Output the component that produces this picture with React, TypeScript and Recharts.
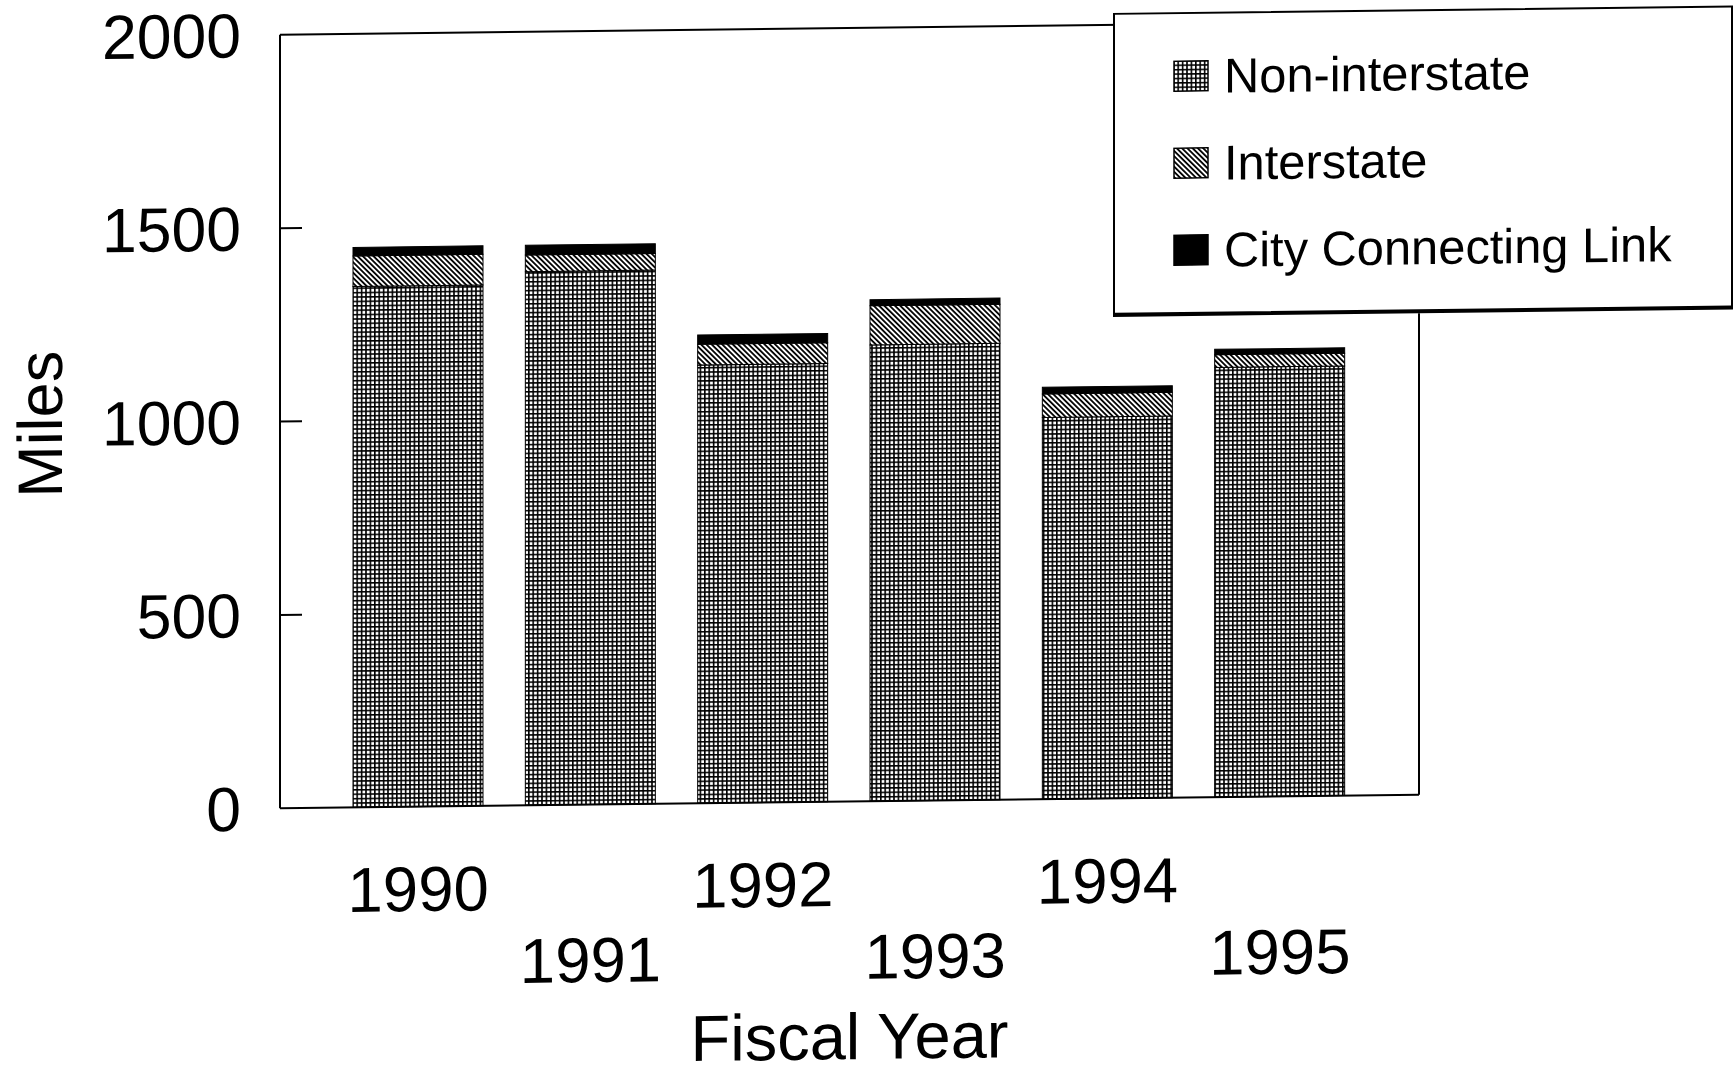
import React from 'react';
import { BarChart, Bar, XAxis, YAxis, Legend, CartesianGrid } from 'recharts';

const years = ['1990', '1991', '1992', '1993', '1994', '1995'];
const nonInterstate = [1347, 1380, 1133, 1180, 987, 1111];
const interstate = [79, 43, 54, 101, 61, 33];
const cityConnectingLink = [22, 25, 24, 16, 17, 14];
const yTicks = [0, 500, 1000, 1500, 2000];
const seriesNames = ['Non-interstate', 'Interstate', 'City Connecting Link'];

const data = years.map((year, i) => ({
  year,
  non: nonInterstate[i],
  inter: interstate[i],
  city: cityConnectingLink[i],
}));

const FONT = '"Liberation Sans", Arial, Helvetica, sans-serif';

const fillFor: Record<string, string> = {
  non: 'url(#gridPat)',
  inter: 'url(#hatchPat)',
  city: '#000',
};

const YTick = (props: any) => {
  const { x, y, payload } = props;
  const axisX = x + 39;
  const v = Number(payload.value);
  return (
    <g>
      <text x={x} y={y} dy={22} textAnchor="end" fontSize={62.5} fill="#000" fontFamily={FONT}>
        {payload.value}
      </text>
      {v > 0 && v < 2000 && (
        <line x1={axisX} x2={axisX + 22} y1={y} y2={y} stroke="#000" strokeWidth={2} />
      )}
    </g>
  );
};

const XTick = (props: any) => {
  const { x, y, payload } = props;
  const idx = years.indexOf(String(payload.value));
  const dy = idx % 2 === 0 ? 104.5 : 177.5;
  return (
    <text x={x} y={y} dy={dy} textAnchor="middle" fontSize={63.5} fill="#000" fontFamily={FONT}>
      {payload.value}
    </text>
  );
};

const MilesLabel = (props: any) => {
  const vb = props.viewBox || { x: 0, y: 0, width: 0, height: 0 };
  const cx = vb.x + 40;
  const cy = vb.y + vb.height / 2;
  return (
    <text
      x={cx}
      y={cy}
      dy={22}
      textAnchor="middle"
      fontSize={63}
      fill="#000"
      fontFamily={FONT}
      transform={`rotate(-90, ${cx}, ${cy})`}
    >
      Miles
    </text>
  );
};

const LegendContent = (props: any) => {
  const payload = [...(props.payload || [])].sort(
    (a: any, b: any) => seriesNames.indexOf(String(a.value)) - seriesNames.indexOf(String(b.value))
  );
  const rowCenters = [62, 149, 236];
  return (
    <div style={{ position: 'relative', width: '100%', height: '100%', fontFamily: FONT }}>
      {payload.map((entry: any, i: number) => (
        <div
          key={String(entry.dataKey)}
          style={{
            position: 'absolute',
            left: 58,
            top: rowCenters[i] - 30,
            height: 60,
            display: 'flex',
            alignItems: 'center',
            whiteSpace: 'nowrap',
          }}
        >
          <svg width={36} height={32} style={{ display: 'block' }}>
            <rect x={1} y={1} width={34} height={30} fill={fillFor[String(entry.dataKey)]} stroke="#000" strokeWidth={1.5} />
          </svg>
          <span style={{ marginLeft: 15, fontSize: 48.8, color: '#000', lineHeight: '60px' }}>{entry.value}</span>
        </div>
      ))}
    </div>
  );
};

export default function App() {
  return (
    <div style={{ position: 'absolute', left: 0, top: 0, width: 1733, height: 1069, overflow: 'hidden', background: '#fff' }}>
      <div style={{ width: 1733, height: 1069, transform: 'skewY(-0.68deg)', transformOrigin: '850px 420px' }}>
        <BarChart
          width={1733}
          height={1069}
          data={data}
          margin={{ top: 28, right: 314, bottom: 69.5, left: 0 }}
        >
          <defs>
            <pattern id="gridPat" width="4.4" height="4.4" patternUnits="userSpaceOnUse">
              <rect width="4.4" height="4.4" fill="#fff" />
              <path d="M0 0.8H4.4M0.8 0V4.4" stroke="#000" strokeWidth="1.6" />
            </pattern>
            <pattern id="hatchPat" width="3.7" height="3.7" patternUnits="userSpaceOnUse" patternTransform="rotate(-45)">
              <rect width="3.7" height="3.7" fill="#fff" />
              <line x1="1.85" y1="0" x2="1.85" y2="3.7" stroke="#000" strokeWidth="1.8" />
            </pattern>
          </defs>
          <CartesianGrid
            stroke="#000"
            strokeWidth={2}
            horizontalCoordinatesGenerator={(p: any) => [p.offset.top]}
            verticalCoordinatesGenerator={(p: any) => [p.offset.left + p.offset.width]}
          />
          <XAxis
            dataKey="year"
            type="category"
            padding={{ left: 52, right: 53 }}
            height={198}
            tickLine={false}
            tickSize={0}
            tickMargin={0}
            axisLine={{ stroke: '#000', strokeWidth: 2 }}
            tick={<XTick />}
            interval={0}
            label={{ value: 'Fiscal Year', position: 'bottom', offset: 13.5, fontSize: 65, fill: '#000', fontFamily: FONT }}
          />
          <YAxis
            domain={[0, 2000]}
            ticks={yTicks}
            width={280}
            tickLine={false}
            tickSize={0}
            tickMargin={39}
            interval={0}
            axisLine={{ stroke: '#000', strokeWidth: 2 }}
            tick={<YTick />}
            label={{ content: <MilesLabel /> }}
          />
          <Legend
            layout="vertical"
            align="center"
            verticalAlign="middle"
            wrapperStyle={{
              left: 1113,
              top: 16,
              width: 620,
              height: 304,
              boxSizing: 'border-box',
              border: '2px solid #000',
              borderBottom: '4px solid #000',
              background: '#fff',
            }}
            content={<LegendContent />}
          />
          <Bar dataKey="non" name={seriesNames[0]} stackId="a" barSize={130} fill="url(#gridPat)" stroke="#000" strokeWidth={1} isAnimationActive={false} />
          <Bar dataKey="inter" name={seriesNames[1]} stackId="a" barSize={130} fill="url(#hatchPat)" stroke="#000" strokeWidth={1} isAnimationActive={false} />
          <Bar dataKey="city" name={seriesNames[2]} stackId="a" barSize={130} fill="#000" stroke="#000" strokeWidth={1} isAnimationActive={false} />
        </BarChart>
      </div>
    </div>
  );
}
